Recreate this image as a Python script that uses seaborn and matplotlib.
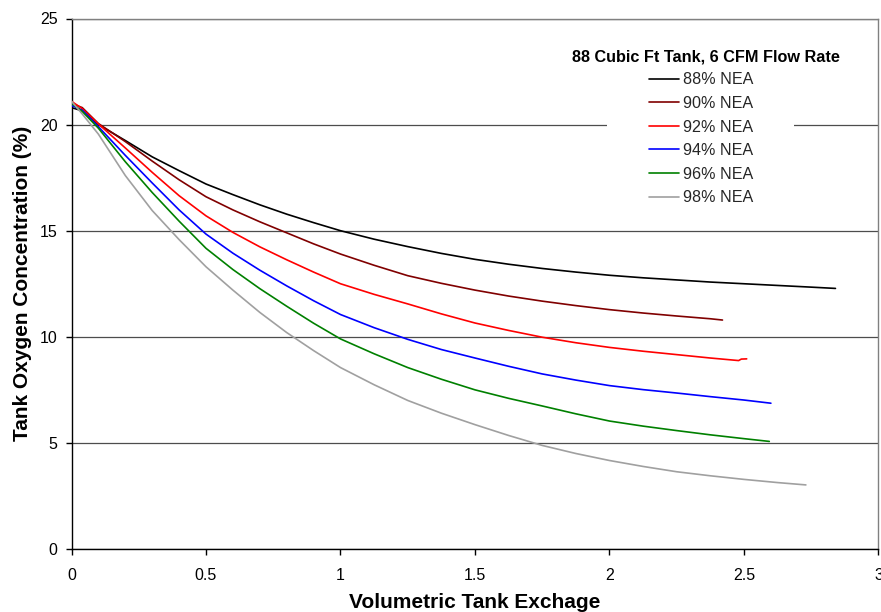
import matplotlib
matplotlib.use("Agg")
import matplotlib.pyplot as plt
from matplotlib.patches import Rectangle
from matplotlib.lines import Line2D
import pandas as pd
import seaborn as sns

# Volumetric tank exchanges at which the oxygen readings are tabulated
exchange_grid = [0, 0.04, 0.1, 0.2, 0.3, 0.4, 0.5, 0.6, 0.7, 0.8, 0.9, 1.0,
                 1.125, 1.25, 1.375, 1.5, 1.625, 1.75, 1.875, 2.0, 2.125, 2.25,
                 2.375, 2.5, 2.625]

# Tank oxygen concentration (%) for each nitrogen-enriched-air purity
o2_88 = [20.8, 20.65, 20.0, 19.25, 18.48, 17.83, 17.2, 16.7, 16.22, 15.78, 15.38, 15.0,
         14.6, 14.25, 13.93, 13.65, 13.42, 13.22, 13.05, 12.9, 12.78, 12.68, 12.58,
         12.5, 12.42]
tail_x_88 = [2.75, 2.84]
tail_o2_88 = [12.34, 12.28]

o2_90 = [21.0, 20.8, 20.05, 19.2, 18.28, 17.4, 16.6, 15.98, 15.42, 14.9, 14.38, 13.9,
         13.37, 12.88, 12.52, 12.2, 11.92, 11.68, 11.47, 11.28, 11.12, 10.98, 10.85]
tail_x_90 = [2.42]
tail_o2_90 = [10.79]

o2_92 = [21.1, 20.75, 20.03, 18.9, 17.75, 16.65, 15.7, 14.92, 14.24, 13.63, 13.05, 12.5,
         12.0, 11.55, 11.08, 10.65, 10.3, 9.98, 9.72, 9.5, 9.32, 9.16, 9.0]
tail_x_92 = [2.48, 2.49, 2.51]
tail_o2_92 = [8.88, 8.95, 8.96]

o2_94 = [20.9, 20.68, 19.9, 18.55, 17.25, 15.98, 14.84, 13.94, 13.14, 12.4, 11.7, 11.05,
         10.43, 9.88, 9.4, 9.0, 8.61, 8.25, 7.96, 7.7, 7.51, 7.35, 7.18, 7.02]
tail_x_94 = [2.6]
tail_o2_94 = [6.87]

o2_96 = [21.0, 20.62, 19.83, 18.25, 16.8, 15.45, 14.17, 13.17, 12.27, 11.44, 10.64, 9.9,
         9.2, 8.55, 8.0, 7.5, 7.1, 6.74, 6.37, 6.03, 5.79, 5.58, 5.38, 5.2]
tail_x_96 = [2.594]
tail_o2_96 = [5.07]

o2_98 = [21.1, 20.5, 19.55, 17.6, 15.95, 14.58, 13.3, 12.2, 11.15, 10.2, 9.35, 8.55,
         7.74, 7.0, 6.4, 5.86, 5.35, 4.88, 4.5, 4.17, 3.89, 3.64, 3.45, 3.28, 3.13]
tail_x_98 = [2.73]
tail_o2_98 = [3.02]

series_labels = ["88% NEA", "90% NEA", "92% NEA", "94% NEA", "96% NEA", "98% NEA"]
series_colors = ["#000000", "#800000", "#FF0000", "#0000FF", "#008000", "#A0A0A0"]
y_ticks = [0, 5, 10, 15, 20, 25]
x_ticks = [0, 0.5, 1, 1.5, 2, 2.5, 3]
x_tick_labels = ["0", "0.5", "1", "1.5", "2", "2.5", "3"]
legend_title = "88 Cubic Ft Tank, 6 CFM Flow Rate"

sns.set_theme(style="ticks")
plt.rcParams["font.family"] = ["Liberation Sans", "DejaVu Sans"]

series = [
    (o2_88, tail_x_88, tail_o2_88),
    (o2_90, tail_x_90, tail_o2_90),
    (o2_92, tail_x_92, tail_o2_92),
    (o2_94, tail_x_94, tail_o2_94),
    (o2_96, tail_x_96, tail_o2_96),
    (o2_98, tail_x_98, tail_o2_98),
]
frames = []
for label, (vals, tx, ty) in zip(series_labels, series):
    xs = exchange_grid[:len(vals)] + tx
    ys = vals + ty
    frames.append(pd.DataFrame({"exchange": xs, "o2": ys, "series": label}))
df = pd.concat(frames, ignore_index=True)

W, H = 881, 612
fig = plt.figure(figsize=(W / 100, H / 100), dpi=100)
ax = fig.add_axes([71.5 / W, 1 - 549 / H, 807 / W, 530.5 / H])

palette = dict(zip(series_labels, series_colors))
sns.lineplot(data=df, x="exchange", y="o2", hue="series", hue_order=series_labels,
             palette=palette, sort=False, estimator=None, linewidth=1.2,
             legend=False, ax=ax, zorder=3)

ax.set_xlim(0, 3)
ax.set_ylim(0, 25)
ax.set_xticks(x_ticks)
ax.set_xticklabels(x_tick_labels)
ax.set_yticks(y_ticks)
ax.set_yticklabels([str(v) for v in y_ticks])

ax.set_axisbelow(True)
ax.yaxis.grid(True, color="#4d4d4d", linewidth=0.9)
ax.xaxis.grid(False)

for side in ("left", "bottom"):
    ax.spines[side].set_color("black")
    ax.spines[side].set_linewidth(1.0)
for side in ("top", "right"):
    ax.spines[side].set_visible(True)
    ax.spines[side].set_color("#808080")
    ax.spines[side].set_linewidth(1.0)

ax.tick_params(axis="both", direction="out", length=4.5, width=1.0, color="black",
               labelsize=11.5, labelcolor="black")
ax.tick_params(axis="x", pad=9.5)
ax.tick_params(axis="y", pad=5.5)

ax.set_xlabel("Volumetric Tank Exchage", fontsize=15, fontweight="bold", color="black")
ax.set_ylabel("Tank Oxygen Concentration (%)", fontsize=15, fontweight="bold", color="black")
ax.xaxis.label.set_va("baseline")
ax.xaxis.set_label_coords(0.5, (549 - 607.5) / 530.5)
ax.yaxis.label.set_va("baseline")
ax.yaxis.set_label_coords((28.5 - 71.5) / 807, 0.5)

# white panel behind the legend block
ax.add_patch(Rectangle((607 / W, 1 - 215 / H), 187 / W, 175 / H,
                       transform=fig.transFigure, facecolor="white",
                       edgecolor="none", zorder=1))

handles = [Line2D([], [], color=c, linewidth=1.2) for c in series_colors]
fs = 11.6
fs_px = fs * 100 / 72
ax.legend(handles, series_labels, loc="upper left",
          bbox_to_anchor=(649.3 / W, 1 - 72.5 / H), bbox_transform=fig.transFigure,
          frameon=False, fontsize=fs, handlelength=30 / fs_px,
          handletextpad=4 / fs_px, labelspacing=0.53, borderpad=0, borderaxespad=0)

fig.text(705.8 / W, 1 - 61 / H, legend_title, ha="center", va="baseline",
         fontsize=11.7, fontweight="bold", color="black")

fig.savefig("out.png", dpi=100, facecolor="white")
